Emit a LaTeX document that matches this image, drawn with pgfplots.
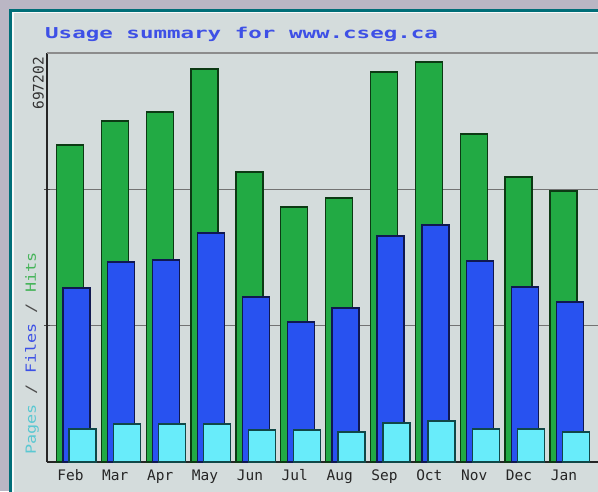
\documentclass[border=0pt]{standalone}
\usepackage{fontspec}
\usepackage{graphicx}
\usepackage{pgfplots}
\pgfplotsset{compat=1.18}
\newfontfamily\pix{DejaVu Sans Mono}
\definecolor{stone}{RGB}{186,182,196}
\definecolor{frameteal}{RGB}{0,110,120}
\definecolor{panel}{RGB}{212,220,220}
\definecolor{hitsgreen}{RGB}{34,170,68}
\definecolor{hitsdark}{RGB}{12,58,20}
\definecolor{filesblue}{RGB}{40,82,240}
\definecolor{filesdark}{RGB}{16,24,80}
\definecolor{pagescyan}{RGB}{104,236,250}
\definecolor{pagesdark}{RGB}{16,72,72}
\definecolor{titleblue}{RGB}{62,80,230}
\definecolor{lblcyan}{RGB}{90,200,210}
\definecolor{lblblue}{RGB}{60,80,230}
\definecolor{lblgreen}{RGB}{70,180,90}
\begin{document}
\begin{tikzpicture}[x=1pt,y=1pt]
\useasboundingbox (0,0) rectangle (598,491);
\clip (0,0) rectangle (598,491);
\fill[stone] (0,0) rectangle (598,491);
\fill[frameteal] (9,-5) rectangle (610,482);
\fill[white!85!panel] (12,-5) rectangle (610,479);
\fill[panel] (13.5,-5) rectangle (610,477.5);
\begin{axis}[
  at={(47pt,29pt)}, anchor=south west,
  scale only axis, width=553pt, height=409pt,
  xmin=-0.657, xmax=11.67, ymin=0, ymax=712887,
  scaled y ticks=false,
  axis x line*=bottom, axis y line*=left,
  axis line style={draw=black!85, line width=1.6pt},
  xtick={0,...,11},
  xticklabels={Feb,Mar,Apr,May,Jun,Jul,Aug,Sep,Oct,Nov,Dec,Jan},
  xticklabel style={font=\fontsize{14.5}{15}\pix, text=black!85, xshift=-6pt, yshift=-1pt},
  major x tick style={draw=none},
  ytick={237629,475258}, yticklabels={},
  major tick length=6pt, tick align=center,
  major y tick style={draw=black!70, line width=1pt},
  ymajorgrids, grid style={draw=black!55, line width=1pt},
  clip=false,
]
\addplot[ybar, bar width=27pt, bar shift=-6.5pt, fill=hitsgreen, draw=hitsdark, line width=1.3pt]
  coordinates {(0,552500) (1,594400) (2,610000) (3,685000) (4,505500) (5,444500) (6,460200) (7,679800) (8,697202) (9,571700) (10,496800) (11,472400)};
\addplot[ybar, bar width=27pt, bar shift=0pt, fill=filesblue, draw=filesdark, line width=1.3pt]
  coordinates {(0,303300) (1,348600) (2,352100) (3,399100) (4,287600) (5,244000) (6,268400) (7,393900) (8,413100) (9,350300) (10,305000) (11,278900)};
\addplot[ybar, bar width=27pt, bar shift=6pt, fill=pagescyan, draw=pagesdark, line width=1.3pt]
  coordinates {(0,57500) (1,66200) (2,66200) (3,66200) (4,55800) (5,55800) (6,52300) (7,68000) (8,71500) (9,57500) (10,57500) (11,52300)};
\draw[black!45, line width=1.4pt] (rel axis cs:0,1) -- (rel axis cs:1.1,1);
\end{axis}
\node[anchor=base west, inner sep=0pt, text=titleblue] at (45,452)
  {\scalebox{1.5}[1]{\fontsize{15}{15}\pix\bfseries Usage summary for www.cseg.ca}};
\node[rotate=90, anchor=south east, inner sep=0pt, text=black!80] at (44,434)
  {\fontsize{14.5}{15}\pix 697202};
\node[rotate=90, anchor=south west, inner sep=0pt] at (39,36)
  {\scalebox{1.2}[1]{\fontsize{14}{15}\pix\textcolor{lblcyan}{Pages} \textcolor{black!70}{/} \textcolor{lblblue}{Files} \textcolor{black!70}{/} \textcolor{lblgreen}{Hits}}};
\end{tikzpicture}
\end{document}
